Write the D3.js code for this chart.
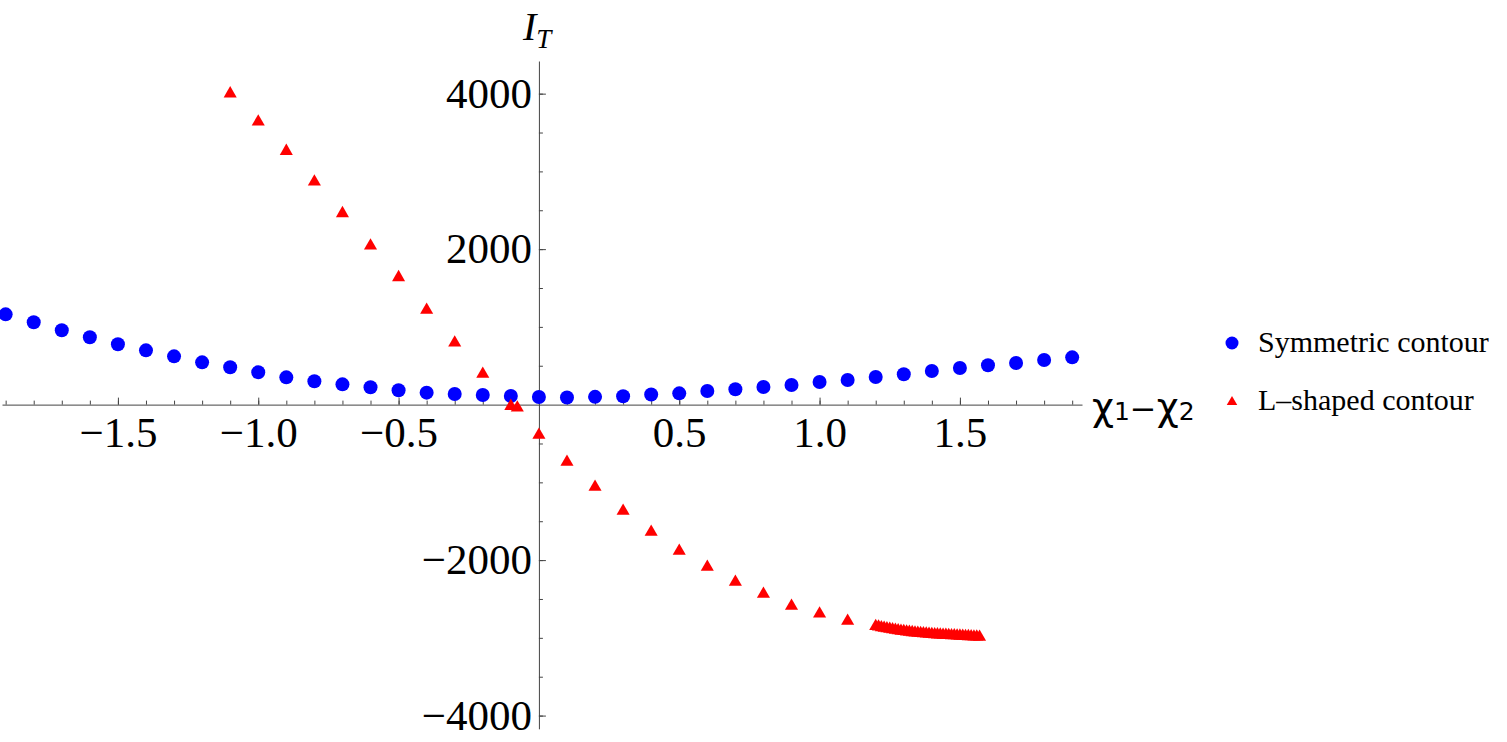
<!DOCTYPE html>
<html>
<head>
<meta charset="utf-8">
<script src="https://cdn.jsdelivr.net/npm/d3@7"></script>
<style>
  body { margin: 0; background: #fff; }
  svg { display: block; }
</style>
</head>
<body>
<div id="chart"></div>
<script>
// Symmetric contour (blue circles)
const symX = [-1.9, -1.8, -1.7, -1.6, -1.5, -1.4, -1.3, -1.2, -1.1, -1.0,
              -0.9, -0.8, -0.7, -0.6, -0.5, -0.4, -0.3, -0.2, -0.1, 0.0,
              0.1, 0.2, 0.3, 0.4, 0.5, 0.6, 0.7, 0.8, 0.9, 1.0,
              1.1, 1.2, 1.3, 1.4, 1.5, 1.6, 1.7, 1.8, 1.9];
const symY = [1161, 1059, 956, 866, 776, 698, 621, 544, 480, 416,
              351, 300, 261, 223, 184, 154, 137, 124, 111, 98,
              92, 100, 108, 130, 145, 175, 197, 227, 253, 291,
              317, 356, 390, 433, 471, 506, 536, 574, 608];

// L-shaped contour (red triangles)
const lX = [-1.1, -1.0, -0.9, -0.8, -0.7, -0.6, -0.5, -0.4, -0.3, -0.2,
            -0.1, -0.077, 0.0, 0.1, 0.2, 0.3, 0.4, 0.5, 0.6, 0.7,
            0.8, 0.9, 1.0, 1.1,
            1.20, 1.21, 1.22, 1.23, 1.24, 1.25, 1.26, 1.27, 1.28, 1.29,
            1.30, 1.31, 1.32, 1.33, 1.34, 1.35, 1.36, 1.37, 1.38, 1.39,
            1.40, 1.41, 1.42, 1.43, 1.44, 1.45, 1.46, 1.47, 1.48, 1.49,
            1.50, 1.51, 1.52, 1.53, 1.54, 1.55, 1.56, 1.57];
const lY = [4000, 3638, 3261, 2866, 2460, 2043, 1637, 1217, 796, 394,
            -20, -40, -390, -738, -1060, -1368, -1638, -1883, -2089, -2282,
            -2436, -2590, -2690, -2784,
            -2850, -2858, -2866, -2873, -2880, -2887, -2893, -2899, -2905, -2911,
            -2916, -2921, -2926, -2930, -2934, -2938, -2942, -2945, -2948, -2951,
            -2954, -2957, -2959, -2961, -2963, -2965, -2967, -2969, -2971, -2973,
            -2975, -2977, -2979, -2981, -2983, -2985, -2987, -2989];

const xMajor = [-1.5, -1.0, -0.5, 0.5, 1.0, 1.5];
const yMajor = [-4000, -2000, 2000, 4000];
const legendLabels = ["Symmetric contour", "L\u2013shaped contour"];

const width = 1507, height = 742;
const svg = d3.select("#chart").append("svg")
    .attr("width", width)
    .attr("height", height);

const x = d3.scaleLinear().domain([-1.913, 1.935]).range([2, 1082]);
const y = d3.scaleLinear().domain([-4170, 4420]).range([728.8, 61]);

const axisColor = "#444";
const tickFont = "'Liberation Serif', 'Times New Roman', serif";

// minor ticks
const xMinor = d3.range(-19, 20).map(i => i / 10).filter(v => v !== 0);
const yMinor = d3.range(-8, 9).map(i => i * 500).filter(v => v !== 0);

svg.append("g")
    .attr("transform", `translate(0,${y(0)})`)
    .call(d3.axisBottom(x).tickValues(xMinor).tickSize(-4).tickFormat(""))
    .call(g => g.select(".domain").remove());

svg.append("g")
    .attr("transform", `translate(${x(0)},0)`)
    .call(d3.axisLeft(y).tickValues(yMinor).tickSize(-4).tickFormat(""))
    .call(g => g.select(".domain").remove());

// major ticks + labels
const xAxis = svg.append("g")
    .attr("transform", `translate(0,${y(0)})`)
    .call(d3.axisBottom(x).tickValues(xMajor).tickSize(-7).tickSizeOuter(0)
        .tickPadding(12).tickFormat(d3.format(".1f")));

const yAxis = svg.append("g")
    .attr("transform", `translate(${x(0)},0)`)
    .call(d3.axisLeft(y).tickValues(yMajor).tickSize(-7).tickSizeOuter(0)
        .tickPadding(7).tickFormat(d3.format("d")));

[xAxis, yAxis].forEach(g => {
    g.select(".domain").attr("stroke", axisColor);
    g.selectAll("text")
        .attr("fill", "#000")
        .style("font-family", tickFont)
        .style("font-size", "43px");
});
svg.selectAll("g line").attr("stroke", axisColor);

// axis labels
svg.append("text")
    .attr("x", 523)
    .attr("y", 40)
    .style("font-family", tickFont)
    .style("font-style", "italic")
    .style("font-size", "40px")
    .text("I")
    .append("tspan")
    .attr("dy", 8)
    .style("font-size", "27px")
    .text("T");

const xl = svg.append("text")
    .attr("x", 1092)
    .attr("y", 420)
    .style("font-family", "'DejaVu Sans', sans-serif")
    .style("font-size", "38px");
xl.append("tspan").text("\u03c7");
xl.append("tspan").style("font-size", "25px").text("1");
xl.append("tspan").style("font-size", "32px").text("\u2212");
xl.append("tspan").text("\u03c7");
xl.append("tspan").style("font-size", "25px").text("2");

// points
const symData = symX.map((v, i) => ({ x: v, y: symY[i] }));
const lData = lX.map((v, i) => ({ x: v, y: lY[i] }));

svg.selectAll("circle.sym")
    .data(symData)
    .enter()
    .append("circle")
    .attr("class", "sym")
    .attr("cx", d => x(d.x))
    .attr("cy", d => y(d.y))
    .attr("r", 7)
    .attr("fill", "#0000ff");

const tri = d3.symbol(d3.symbolTriangle).size(74);
svg.selectAll("path.lsh")
    .data(lData)
    .enter()
    .append("path")
    .attr("class", "lsh")
    .attr("d", tri)
    .attr("transform", d => `translate(${x(d.x)},${y(d.y)})`)
    .attr("fill", "#ff0000");

// legend
const legend = svg.append("g").attr("transform", "translate(1232,0)");
legend.append("circle")
    .attr("cx", 0).attr("cy", 343).attr("r", 6.5)
    .attr("fill", "#0000ff");
legend.append("path")
    .attr("d", d3.symbol(d3.symbolTriangle).size(48))
    .attr("transform", "translate(0,402)")
    .attr("fill", "#ff0000");
legend.selectAll("text")
    .data(legendLabels)
    .enter()
    .append("text")
    .attr("x", 26)
    .attr("y", (d, i) => i === 0 ? 352 : 410)
    .style("font-family", tickFont)
    .style("font-size", "30px")
    .text(d => d);
</script>
</body>
</html>
